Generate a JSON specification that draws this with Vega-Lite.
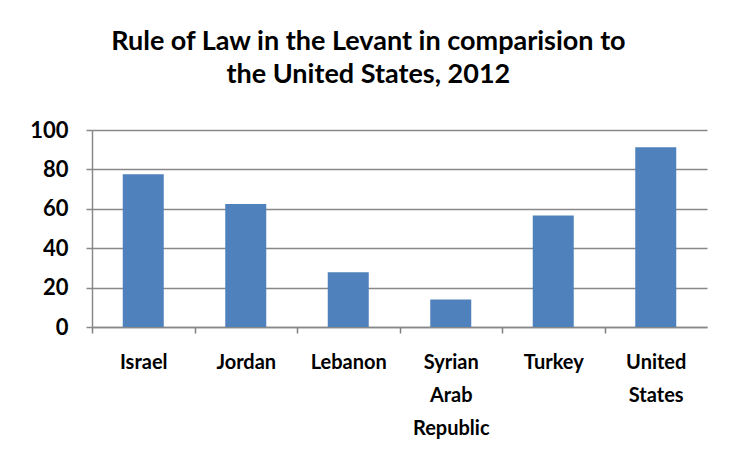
{
  "$schema": "https://vega.github.io/schema/vega-lite/v6.json",
  "width": 615,
  "height": 197,
  "autosize": {"type": "none"},
  "padding": {"left": 92, "top": 130, "right": 26, "bottom": 130},
  "background": "white",
  "title": {
    "text": ["Rule of Law in the Levant in comparision to", "the United States, 2012"],
    "font": "Lato",
    "fontWeight": "bold",
    "fontSize": 27,
    "lineHeight": 33,
    "color": "black",
    "anchor": "middle",
    "frame": "bounds",
    "offset": 30
  },
  "data": {
    "values": [
      {"country": "Israel", "value": 77.6},
      {"country": "Jordan", "value": 62.4},
      {"country": "Lebanon", "value": 27.8},
      {"country": "Syrian Arab Republic", "value": 13.9},
      {"country": "Turkey", "value": 56.6},
      {"country": "United States", "value": 91.2}
    ]
  },
  "mark": {"type": "bar", "color": "#4F81BD"},
  "encoding": {
    "x": {
      "field": "country",
      "type": "nominal",
      "sort": null,
      "scale": {"paddingInner": 0.6, "paddingOuter": 0.3},
      "axis": {
        "title": null,
        "labelAngle": 0,
        "labelExpr": "datum.value ? split(datum.value, ' ') : ''",
        "labelLineHeight": 33,
        "labelBaseline": "top",
        "labelFont": "Lato",
        "labelFontWeight": "bold",
        "labelFontSize": 20,
        "labelColor": "black",
        "labelLimit": 300,
        "labelOverlap": false,
        "labelPadding": 19,
        "ticks": true,
        "tickOffset": -51.25,
        "labelOffset": 51.25,
        "tickSize": 6,
        "tickColor": "#808080",
        "tickWidth": 1.5,
        "domainColor": "#888888",
        "domainWidth": 1.5
      }
    },
    "y": {
      "field": "value",
      "type": "quantitative",
      "scale": {"domain": [0, 100]},
      "axis": {
        "title": null,
        "values": [0, 20, 40, 60, 80, 100],
        "grid": true,
        "gridColor": "#888888",
        "gridWidth": 1.5,
        "domainColor": "#888888",
        "domainWidth": 1.5,
        "tickColor": "#888888",
        "tickWidth": 1.5,
        "tickSize": 6,
        "labelFont": "Lato",
        "labelFontWeight": "bold",
        "labelFontSize": 22,
        "labelColor": "black",
        "labelPadding": 18
      }
    }
  },
  "config": {"view": {"stroke": null}}
}
